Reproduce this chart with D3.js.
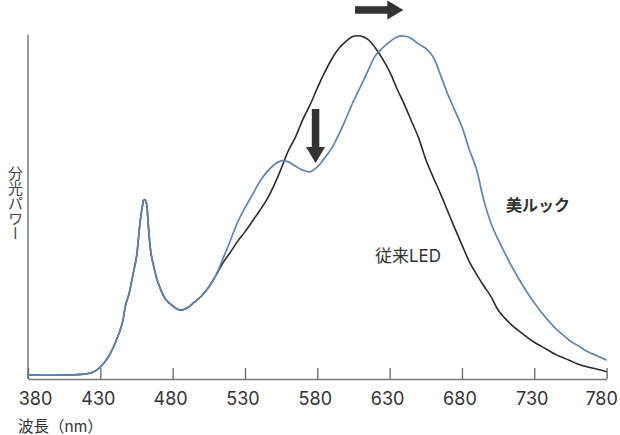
<!DOCTYPE html>
<html><head><meta charset="utf-8">
<script src="https://cdn.jsdelivr.net/npm/d3@7"></script>
<style>body{margin:0;background:#fff}</style>
</head><body>
<svg id="chart" width="620" height="435"></svg>
<script>
// ---- data ----
const wavelengths = [380,390,400,410,420,425,430,435,440,445,447.5,450,452.5,455,457.5,459,460,461,462,463,465,467.5,470,475,480,485,490,495,500,505,510,
  515,520,525,530,535,540,545,550,555,560,565,570,575,580,585,590,595,600,605,610,615,620,625,630,635,
  640,645,650,655,660,665,670,675,680,685,690,695,700,705,710,715,720,725,730,735,740,745,750,755,760,765,770,775,780];
const sharedStart = [1.2,1.1,1.1,1.2,1.5,2.0,3.5,6.1,10.2,16.0,21.6,25.1,30.3,35.6,45.8,50.1,52.2,52.2,51.0,45.8,36.7,31.8,28.0,23.3,21.3,20.1,20.7,22.4,24.2,26.8,30.3];
const conventionalLED = sharedStart.concat([34.0,37.0,40.2,42.9,45.9,49.0,52.2,56.4,61.3,66.6,70.6,75.7,79.9,84.8,89.3,93.3,96.4,98.5,99.9,100,99.0,96.6,93.4,89.6,84.7,
  80.2,75.3,70.3,64.0,58.9,54.2,49.1,44.0,39.1,34.3,30.6,27.2,24.1,20.1,17.6,15.5,13.8,12.2,10.7,9.5,8.3,7.1,6.2,5.3,4.4,3.7,3.2,2.7,2.1]);
const biLook = sharedStart.concat([35.3,40.5,45.8,49.9,53.6,57.4,60.3,62.4,63.6,63.3,62.0,60.9,60.4,61.8,64.4,67.3,71.4,76.1,81.0,85.3,89.8,94.2,96.5,98.3,99.7,
  100,99.3,97.7,96.4,94.0,88.8,83.2,78.4,73.5,67.0,61.2,52.3,45.5,40.7,36.4,32.4,28.7,25.3,22.2,19.4,16.9,14.6,12.8,11.0,9.8,8.4,7.4,6.5,5.5]);
const xTicks = [380,430,480,530,580,630,680,730,780];
const seriesNames = ["従来LED","美ルック"];
const xTitle = "波長（nm）";
const yTitle = "分光パワー";
// annotation anchors in data units [wavelength, power]
const labelAnchors = [[619.9,34.1],[710.4,49.0]];
const arrows = [[[606.1,107.6],[639.5,107.6]],[[578.8,78.7],[578.8,63.0]]];

// ---- drawing ----
const svg = d3.select("#chart");
const x = d3.scaleLinear().domain([380,780]).range([28,606.6]);
const y = d3.scaleLinear().domain([0,100]).range([379,36]);

const fontLatin = "Inter, 'Liberation Sans', Arial, sans-serif";
const fontCJK = "Inter, 'Noto Sans CJK JP', sans-serif";

// y axis line
svg.append("line")
  .attr("x1", x(380)).attr("x2", x(380))
  .attr("y1", y(100.4)).attr("y2", y(0))
  .attr("stroke", "#666").attr("stroke-width", 1.3);

// x axis
const xAxis = d3.axisBottom(x).tickValues(xTicks).tickFormat(d3.format("d"))
  .tickSizeInner(-11).tickSizeOuter(0).tickPadding(13);
const gx = svg.append("g").attr("transform", `translate(0,${y(0)})`).call(xAxis);
gx.select(".domain").attr("stroke", "#777").attr("stroke-width", 1.6);
gx.selectAll(".tick line").attr("stroke", "#666").attr("stroke-width", 1.3);
gx.selectAll(".tick text")
  .attr("fill", "#333").attr("font-size", 18).attr("font-family", fontLatin)
  .attr("dx", d => d === 380 ? 7 : d === 780 ? -5.5 : -2.5);

// lines
const line = d3.line().x((d,i) => x(wavelengths[i])).y(d => y(d)).curve(d3.curveCatmullRom.alpha(0.5));
svg.append("path").datum(conventionalLED).attr("d", line)
  .attr("fill", "none").attr("stroke", "#2b2b2b").attr("stroke-width", 1.6);
svg.append("path").datum(biLook).attr("d", line)
  .attr("fill", "none").attr("stroke", "#5f84b4").attr("stroke-width", 1.7);

// series labels
svg.append("text").attr("x", x(labelAnchors[0][0])).attr("y", y(labelAnchors[0][1]))
  .attr("font-family", fontCJK).attr("font-size", 17).attr("fill", "#333").text(seriesNames[0]);
svg.append("text").attr("x", x(labelAnchors[1][0])).attr("y", y(labelAnchors[1][1]))
  .attr("font-family", fontCJK).attr("font-size", 16).attr("font-weight", "bold").attr("fill", "#333").text(seriesNames[1]);

// arrows
function arrowPath(p1, p2, shaftW, headW, headL) {
  const x1 = x(p1[0]), y1 = y(p1[1]), x2 = x(p2[0]), y2 = y(p2[1]);
  const L = Math.hypot(x2 - x1, y2 - y1), ux = (x2 - x1) / L, uy = (y2 - y1) / L;
  const nx = -uy, ny = ux;
  const pts = [[0, -shaftW/2],[L - headL, -shaftW/2],[L - headL, -headW/2],[L, 0],[L - headL, headW/2],[L - headL, shaftW/2],[0, shaftW/2]];
  return "M" + pts.map(([a, b]) => [x1 + ux*a + nx*b, y1 + uy*a + ny*b].join(",")).join("L") + "Z";
}
svg.selectAll("path.arrow").data(arrows).join("path").attr("class", "arrow")
  .attr("d", d => arrowPath(d[0], d[1], 7.5, 19, 16)).attr("fill", "#333");

// axis titles
svg.append("text").attr("x", 18).attr("y", 432)
  .attr("font-family", fontCJK).attr("font-size", 15.5).attr("fill", "#333").text(xTitle);
svg.append("text").attr("x", 15.5).attr("y", 166)
  .attr("font-family", "'Noto Sans CJK JP', sans-serif").attr("font-size", 15).attr("fill", "#444")
  .style("writing-mode", "vertical-rl").text(yTitle);
</script>
</body></html>
